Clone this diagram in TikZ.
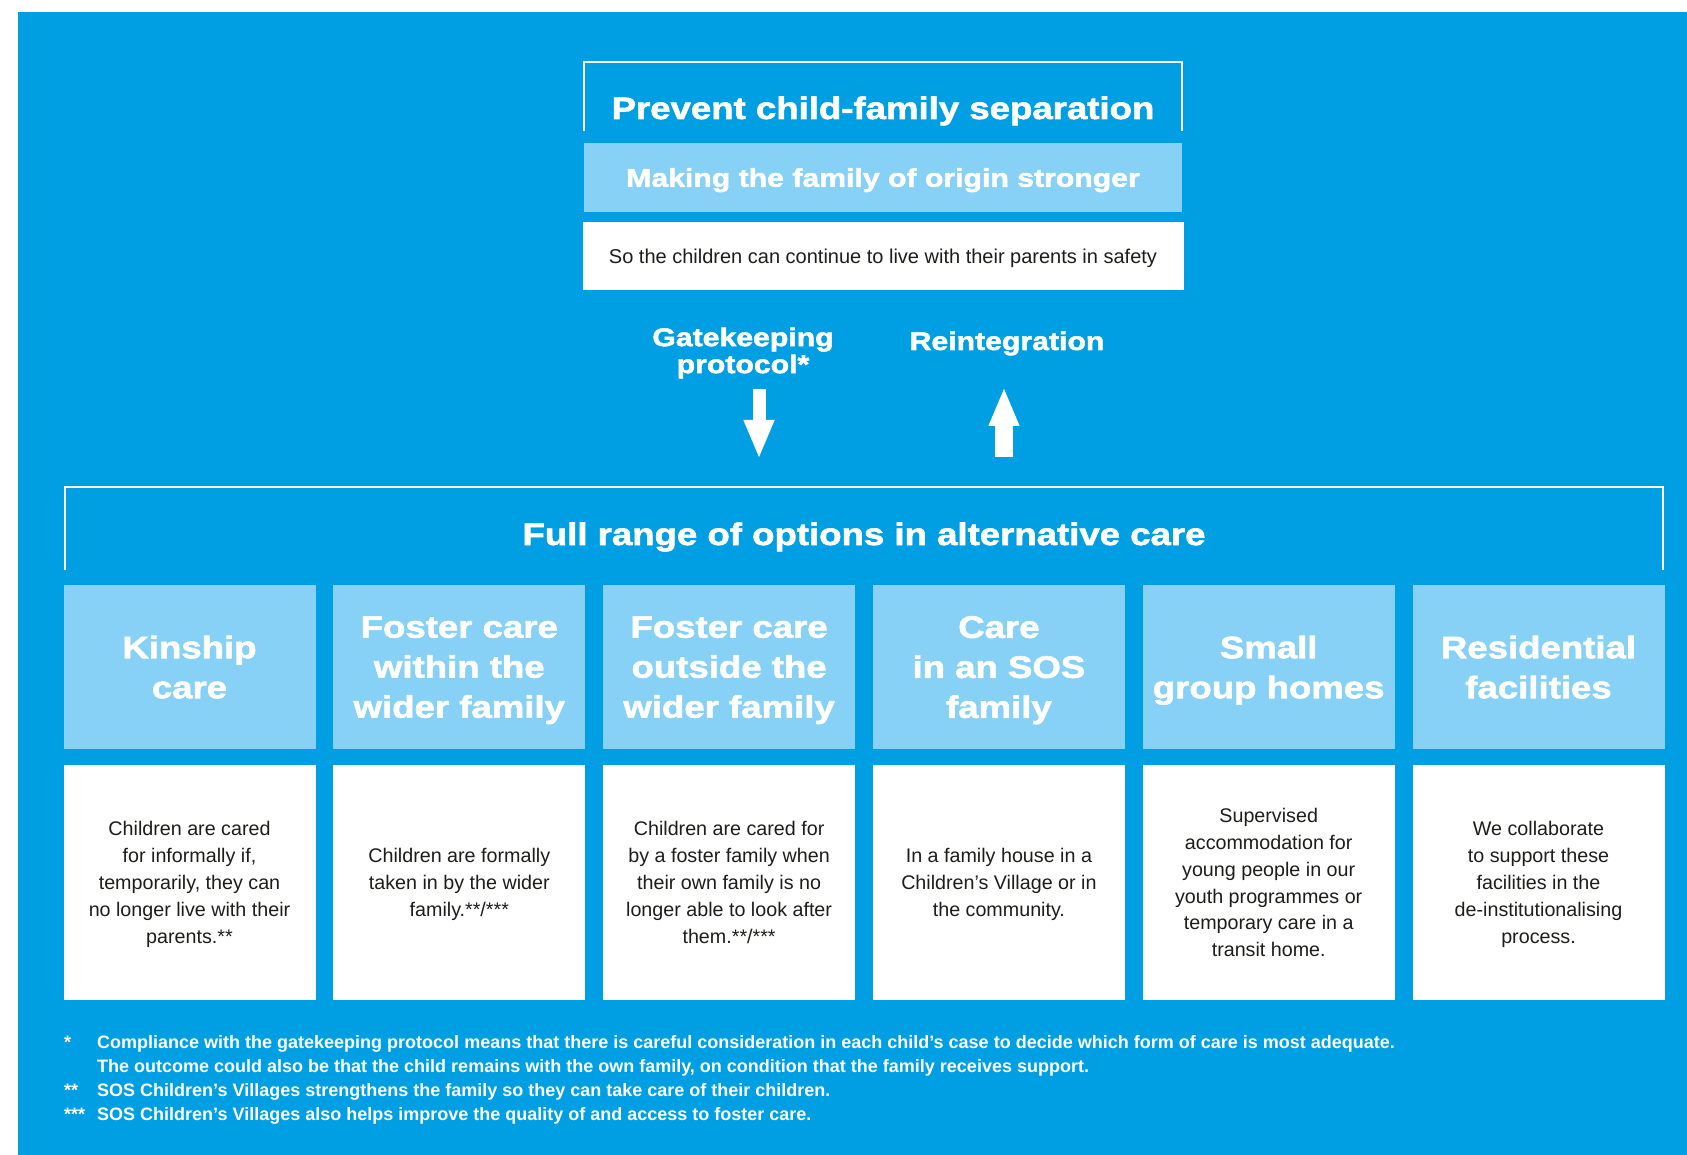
\documentclass[tikz,border=0pt]{standalone}
\usepackage{fontspec}
\setmainfont{Liberation Sans}
\newfontfamily\headfont[FakeStretch=1.18,FakeBold=2]{Liberation Sans Bold}
\newfontfamily\notefont{Liberation Sans Bold}
\usetikzlibrary{positioning,arrows.meta}

\definecolor{sosblue}{HTML}{009FE3}
\definecolor{soslight}{HTML}{86D1F5}
\definecolor{sosink}{HTML}{1D1D1B}

\begin{document}
\begin{tikzpicture}[
    x=1pt, y=-1pt,
    inner sep=0pt,
    frame/.style={draw=white, line width=2pt},
    bigtitle/.style={text=white, font=\headfont\fontsize{31}{36}\selectfont},
    subtitle/.style={text=white, align=center, font=\headfont\fontsize{25.6}{27}\selectfont},
    colhead/.style={fill=soslight, minimum width=252pt, minimum height=164pt, text depth=0pt,
        text=white, align=center, font=\headfont\fontsize{31}{40}\selectfont},
    coltext/.style={fill=white, minimum width=252pt, minimum height=235pt, text depth=0pt,
        text=sosink, align=center, font=\fontsize{19.7}{26.9}\selectfont},
    blockarrow/.style={draw=white, -{Triangle[width=28pt,length=39pt]}},
    ]
    \useasboundingbox (0,0) rectangle (1687,1155);
    \fill[sosblue] (18,12) rectangle (1687,1155);

    % prevent separation
    \draw[frame] (584,131) |- (1182,62) -- (1182,131);
    \node[bigtitle, anchor=base] (prevent) at (883,119) {Prevent child-family separation};
    \node[fill=soslight, minimum width=598pt, minimum height=69pt, text depth=0pt, subtitle]
        (making) at (883,177.5) {Making the family of origin stronger};
    \node[fill=white, minimum width=601pt, minimum height=68pt, text depth=0pt, text=sosink,
        font=\fontsize{20}{24}\selectfont, below=10pt of making]
        (safety) {So the children can continue to live with their parents in safety};

    % in and out of care
    \node[subtitle] (gate) at (743,353) {Gatekeeping\\protocol*};
    \node[subtitle, anchor=base] (reint) at (1007,350) {Reintegration};
    \coordinate (gatefrom) at (759,389);
    \coordinate (gateto) at (759,459);
    \coordinate (reintfrom) at (1004,457);
    \coordinate (reintto) at (1004,387);
    \draw[blockarrow, line width=13pt] (gatefrom) -- (gateto);
    \draw[blockarrow, line width=18pt] (reintfrom) -- (reintto);

    % alternative care
    \draw[frame] (65,570) |- (1663,487) -- (1663,570);
    \node[bigtitle, anchor=base] (fullrange) at (864,545) {Full range of options in alternative care};
    \foreach \i/\head/\body in {
        1/{Kinship\\care}/{Children are cared\\for informally if,\\temporarily, they can\\no longer live with their\\parents.**},
        2/{Foster care\\within the\\wider family}/{Children are formally\\taken in by the wider\\family.**/***},
        3/{Foster care\\outside the\\wider family}/{Children are cared for\\by a foster family when\\their own family is no\\longer able to look after\\them.**/***},
        4/{Care\\in an SOS\\family}/{In a family house in a\\Children’s Village or in\\the community.},
        5/{Small\\group homes}/{Supervised\\accommodation for\\young people in our\\youth programmes or\\temporary care in a\\transit home.},
        6/{Residential\\facilities}/{We collaborate\\to support these\\facilities in the\\de-institutionalising\\process.}} {
        \node[colhead] (head\i) at ({189.5+269.8*(\i-1)},667) {\head};
        \node[coltext] (body\i) at ({189.5+269.8*(\i-1)},882.5) {\body};
    }

    % footnotes
    \node[anchor=base west, text=white, font=\notefont\fontsize{18}{24}\selectfont]
        (notes) at (64,1048) {%
        \begin{tabular}[t]{@{}p{33pt}@{}l@{}}
        {*} & Compliance with the gatekeeping protocol means that there is careful consideration in each child’s case to decide which form of care is most adequate.\\
            & The outcome could also be that the child remains with the own family, on condition that the family receives support.\\
        {**} & SOS Children’s Villages strengthens the family so they can take care of their children.\\
        {***} & SOS Children’s Villages also helps improve the quality of and access to foster care.
        \end{tabular}};
\end{tikzpicture}
\end{document}
